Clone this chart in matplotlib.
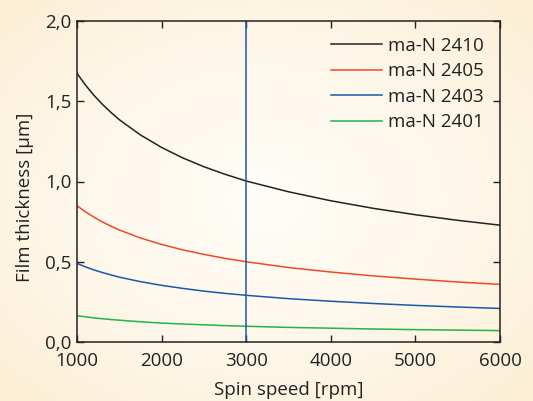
import numpy as np
import matplotlib.pyplot as plt
from matplotlib.colors import LinearSegmentedColormap

# spin curves (rpm -> film thickness in um)
rpm = [1000, 1100, 1200, 1300, 1400, 1500, 1750, 2000, 2250, 2500, 2750, 3000,
       3500, 4000, 4500, 5000, 5500, 6000]
man_2410 = [1.674, 1.601, 1.537, 1.481, 1.431, 1.385, 1.290, 1.212, 1.147, 1.092, 1.045, 1.003,
            0.936, 0.880, 0.833, 0.793, 0.758, 0.728]
man_2405 = [0.849, 0.811, 0.778, 0.748, 0.722, 0.698, 0.648, 0.608, 0.574, 0.546, 0.521, 0.500,
            0.464, 0.436, 0.412, 0.392, 0.374, 0.359]
man_2403 = [0.490, 0.468, 0.449, 0.433, 0.418, 0.404, 0.376, 0.353, 0.334, 0.317, 0.303, 0.291,
            0.270, 0.254, 0.240, 0.228, 0.218, 0.209]
man_2401 = [0.164, 0.157, 0.150, 0.145, 0.140, 0.136, 0.126, 0.118, 0.112, 0.107, 0.102, 0.098,
            0.091, 0.086, 0.081, 0.077, 0.074, 0.071]
labels = ["ma-N 2410", "ma-N 2405", "ma-N 2403", "ma-N 2401"]
colors = ["#222222", "#f0482a", "#1a58aa", "#22b448"]
marker_rpm = 3000

plt.rcParams["font.family"] = ["Open Sans", "DejaVu Sans"]

fig = plt.figure(figsize=(5.33, 4.01), dpi=100)

# cream radial background
bg = fig.add_axes([0, 0, 1, 1], zorder=-10)
yy, xx = np.mgrid[-1:1:200j, -1:1:260j]
r = np.sqrt(xx ** 2 + yy ** 2)
cmap = LinearSegmentedColormap.from_list("cream", ["#fffdf8", "#fef8ec", "#fcefd6"])
bg.imshow(np.clip(r / 1.35, 0, 1), cmap=cmap, aspect="auto", extent=[0, 1, 0, 1])
bg.axis("off")

ax = fig.add_axes([77 / 533, 59 / 401, 423 / 533, 321 / 401])
ax.patch.set_alpha(0)

series = [man_2410, man_2405, man_2403, man_2401]
for vals, lab, col in zip(series, labels, colors):
    ax.plot(rpm, vals, color=col, lw=1.1, label=lab)
ax.axvline(marker_rpm, color="#1a58aa", lw=1.1)

ax.set_xlim(1000, 6000)
ax.set_ylim(0, 2.0)
ax.set_xticks([1000, 2000, 3000, 4000, 5000, 6000])
ax.set_yticks([0, 0.5, 1.0, 1.5, 2.0])
ax.set_yticklabels(["0,0", "0,5", "1,0", "1,5", "2,0"])
ax.tick_params(direction="in", length=5, width=1, top=True, right=True,
               labelsize=13.5, colors="#222222")
ax.tick_params(axis="x", pad=7)
ax.tick_params(axis="y", pad=4)
for s in ax.spines.values():
    s.set_color("#222222")
    s.set_linewidth(1.1)

ax.set_xlabel("Spin speed [rpm]", fontsize=13.5, color="#222222", labelpad=8)
ax.set_ylabel("Film thickness [µm]", fontsize=13.5, color="#222222")
ax.yaxis.set_label_coords(-0.102, 0.45)

leg = ax.legend(loc="upper right", frameon=False, fontsize=13.5, handlelength=2.7,
                handletextpad=0.35, labelspacing=0.4, borderaxespad=0.5,
                borderpad=0.35)
for t in leg.get_texts():
    t.set_color("#222222")

fig.savefig("out.png", dpi=100)
